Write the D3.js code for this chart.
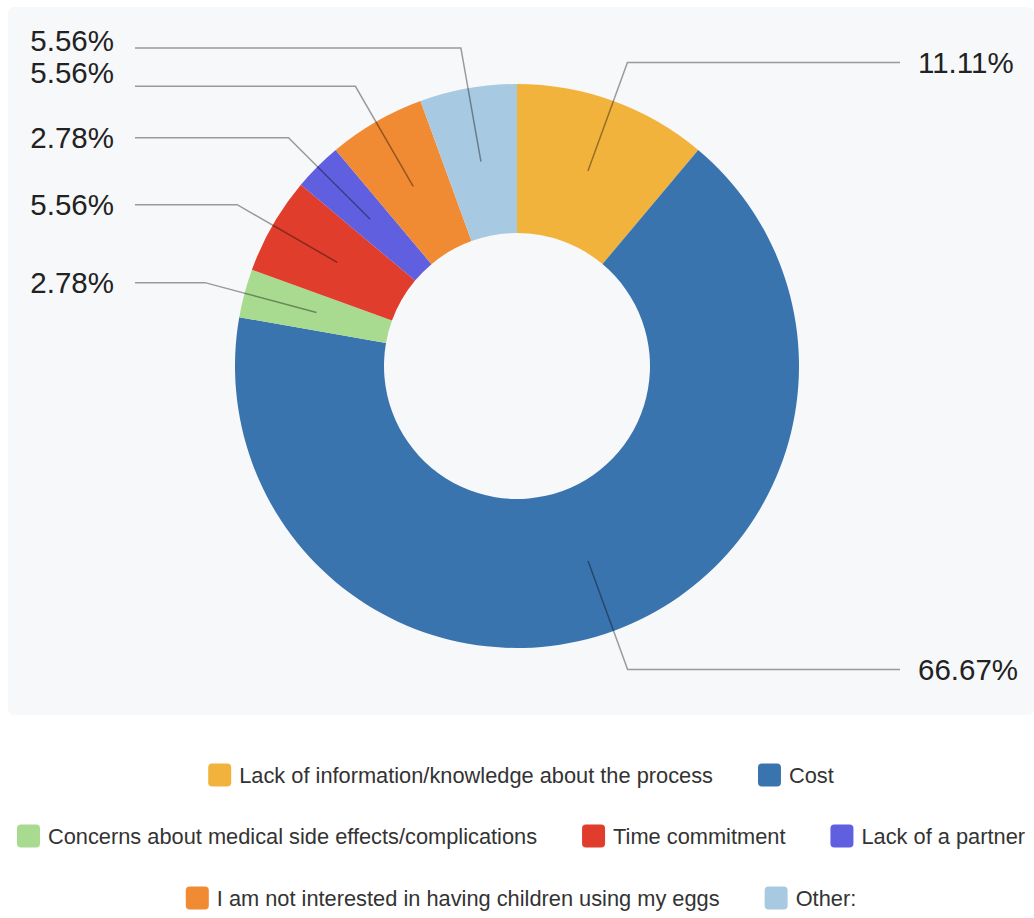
<!DOCTYPE html>
<html>
<head>
<meta charset="utf-8">
<script src="https://cdn.jsdelivr.net/npm/d3@7"></script>
<style>
  body { margin: 0; background: #fff; }
  svg { display: block; }
</style>
</head>
<body>
<div class="main-container"></div>
<script>
// chart data
const categories = [
  'Lack of information/knowledge about the process',
  'Cost',
  'Concerns about medical side effects/complications',
  'Time commitment',
  'Lack of a partner',
  'I am not interested in having children using my eggs',
  'Other:'
];
const values = [11.11, 66.67, 2.78, 5.56, 2.78, 5.56, 5.56];
const colors = ['#f2b33d', '#3a74ae', '#a8db8f', '#e03d2d', '#5f5fe0', '#f08a33', '#a8c9e2'];

// legend rows (indexes into categories)
const legendRows = [[0, 1], [2, 3, 4], [5, 6]];

const width = 1034, height = 918;
const cx = 517, cy = 366;
const outerR = 282, innerR = 133;
const elbowR = 323;

const svg = d3.select('.main-container').append('svg')
  .attr('width', width)
  .attr('height', height);

// panel background
svg.append('rect')
  .attr('x', 8).attr('y', 7)
  .attr('width', width - 8).attr('height', 708)
  .attr('rx', 6)
  .attr('fill', '#f7f8fa');

const pie = d3.pie().sort(null).value(d => d);
const arcs = pie(values);

const arc = d3.arc().innerRadius(innerR).outerRadius(outerR);

const g = svg.append('g').attr('transform', `translate(${cx},${cy})`);

g.selectAll('path.slice')
  .data(arcs)
  .join('path')
  .attr('class', 'slice')
  .attr('d', arc)
  .attr('fill', (d, i) => colors[i]);

// leader lines + labels
const midR = (innerR + outerR) / 2;
const polar = (r, a) => [r * Math.sin(a), -r * Math.cos(a)];

// small vertical nudges for crowded labels on the left
const textShift = {6: -7, 5: -14};

arcs.forEach((d, i) => {
  const a = (d.startAngle + d.endAngle) / 2;
  const p0 = polar(midR, a);
  const p1 = polar(elbowR, a);
  const right = a < Math.PI;
  const xEnd = right ? 900 - cx : 135 - cx;
  g.append('path')
    .attr('d', d3.line()([p0, p1, [xEnd, p1[1]]]))
    .attr('fill', 'none')
    .attr('stroke', '#000')
    .attr('stroke-opacity', 0.38)
    .attr('stroke-width', 1.5);
  g.append('text')
    .attr('x', right ? xEnd + 18 : xEnd - 21)
    .attr('y', p1[1] + (textShift[i] || 0))
    .attr('dy', '0.35em')
    .attr('text-anchor', right ? 'start' : 'end')
    .attr('font-family', 'Liberation Sans, Arial, sans-serif')
    .attr('font-size', 29.5)
    .attr('fill', '#222')
    .text(d3.format('.2f')(values[i]) + '%');
});

// legend
const legend = svg.append('g')
  .attr('font-family', 'Liberation Sans, Arial, sans-serif')
  .attr('font-size', 21.8)
  .attr('fill', '#333');

const rowY = [775, 836, 898];
const swatch = 23, gapText = 8, gapItem = 45;

legendRows.forEach((row, r) => {
  const rowG = legend.append('g');
  let x = 0;
  row.forEach(i => {
    const item = rowG.append('g').attr('transform', `translate(${x},0)`);
    item.append('rect')
      .attr('x', 0).attr('y', -swatch / 2)
      .attr('width', swatch).attr('height', swatch)
      .attr('rx', 4)
      .attr('fill', colors[i]);
    const t = item.append('text')
      .attr('x', swatch + gapText)
      .attr('dy', '0.35em')
      .text(categories[i]);
    x += swatch + gapText + t.node().getComputedTextLength() + gapItem;
  });
  const w = x - gapItem;
  rowG.attr('transform', `translate(${(width + 8 - w) / 2},${rowY[r]})`);
});
</script>
</body>
</html>
